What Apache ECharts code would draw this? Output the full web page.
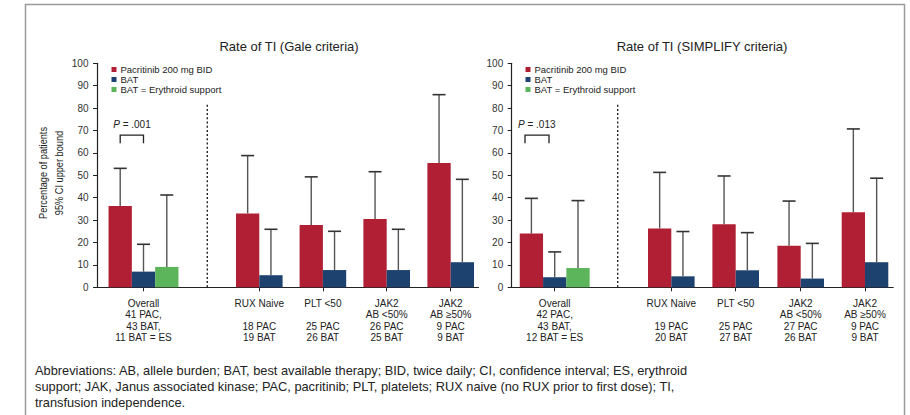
<!DOCTYPE html>
<html><head><meta charset="utf-8">
<script src="https://cdn.jsdelivr.net/npm/echarts@6/dist/echarts.min.js"></script>
<style>html,body{margin:0;padding:0;background:#fff}#c{width:910px;height:415px}</style>
</head><body><div id="c"></div>
<script>
// ---------- DATA ----------
const seriesNames = ['Pacritinib 200 mg BID', 'BAT', 'BAT = Erythroid support'];
const chartTitles = ['Rate of TI (Gale criteria)', 'Rate of TI (SIMPLIFY criteria)'];
const galeCategories = ['Overall\n41 PAC,\n43 BAT,\n11 BAT = ES', 'RUX Naive\n\n18 PAC\n19 BAT', 'PLT <50\n\n25 PAC\n26 BAT', 'JAK2\nAB <50%\n26 PAC\n25 BAT', 'JAK2\nAB ≥50%\n9 PAC\n9 BAT'];
const simplifyCategories = ['Overall\n42 PAC,\n43 BAT,\n12 BAT = ES', 'RUX Naive\n\n19 PAC\n20 BAT', 'PLT <50\n\n25 PAC\n27 BAT', 'JAK2\nAB <50%\n27 PAC\n26 BAT', 'JAK2\nAB ≥50%\n9 PAC\n9 BAT'];
const galePac = [36.3, 33.0, 27.8, 30.5, 55.5];
const galePacCI = [53.1, 58.8, 49.3, 51.6, 86.0];
const galeBat = [7.0, 5.4, 7.7, 7.7, 11.2];
const galeBatCI = [19.2, 25.9, 25.0, 25.9, 48.2];
const galeEs = [9.1];
const galeEsCI = [41.2];
const simpPac = [24.0, 26.3, 28.1, 18.5, 33.5];
const simpPacCI = [39.7, 51.3, 49.7, 38.5, 70.7];
const simpBat = [4.5, 4.9, 7.6, 3.9, 11.2];
const simpBatCI = [15.8, 24.9, 24.4, 19.6, 48.7];
const simpEs = [8.6];
const simpEsCI = [38.7];
const pValues = ['.001', '.013'];
const yMin = 0, yMax = 100, yInterval = 10;
const yAxisTitle = 'Percentage of patients\n95% CI upper bound';
const footnote = 'Abbreviations: AB, allele burden; BAT, best available therapy; BID, twice daily; CI, confidence interval; ES, erythroid\nsupport; JAK, Janus associated kinase; PAC, pacritinib; PLT, platelets; RUX naive (no RUX prior to first dose); TI,\ntransfusion independence.';

// ---------- LAYOUT ----------
const FONT = "'Liberation Sans', Arial, Helvetica, sans-serif";
const COLORS = ['#b01f33', '#1e4270', '#5db55b'];
const GRID_TOP = 63.3, GRID_H = 224, GRID_W = 381.5, X_MAX = 381.5, BAR_W = 23.3, CAP = 13;
const LAYOUT = [
  { gridLeft: 97, pos: [46.5, 162.3, 225.9, 289.7, 353.7], div: 110.3, bracket: [23.2, 46.5], titleX: 289, legendLeft: 111.5 },
  { gridLeft: 511.7, pos: [43, 159.6, 224, 289, 353.3], div: 106, bracket: [13.3, 37.3], titleX: 702, legendLeft: 525.5 }
];
const charts = [
  { cats: galeCategories, pac: galePac, pacCI: galePacCI, bat: galeBat, batCI: galeBatCI, es: galeEs, esCI: galeEsCI },
  { cats: simplifyCategories, pac: simpPac, pacCI: simpPacCI, bat: simpBat, batCI: simpBatCI, es: simpEs, esCI: simpEsCI }
];

function barRenderer(offsetFor, color) {
  return function (params, api) {
    const x = api.value(0), v = api.value(1), hi = api.value(2), i = api.value(3);
    const w = api.size([BAR_W, 0])[0];
    const base = api.coord([x, 0]);
    const top = api.coord([x, v]);
    const ciTop = api.coord([x, hi]);
    const cx = base[0] + offsetFor(i) * w;
    return { type: 'group', children: [
      { type: 'rect', shape: { x: cx - w / 2, y: top[1], width: w, height: base[1] - top[1] }, style: { fill: color } },
      { type: 'line', shape: { x1: cx, y1: top[1], x2: cx, y2: ciTop[1] }, style: { stroke: '#555', lineWidth: 1.4 } },
      { type: 'line', shape: { x1: cx - CAP / 2, y1: ciTop[1], x2: cx + CAP / 2, y2: ciTop[1] }, style: { stroke: '#333', lineWidth: 1.6 } }
    ] };
  };
}

const grids = [], xAxes = [], yAxes = [], series = [], legends = [], graphics = [];
charts.forEach((c, ci) => {
  const L = LAYOUT[ci];
  grids.push({ left: L.gridLeft, top: GRID_TOP, width: GRID_W, height: GRID_H, containLabel: false, outerBoundsMode: 'none' });
  xAxes.push({
    type: 'value', gridIndex: ci, min: 0, max: X_MAX,
    axisLine: { show: true, lineStyle: { color: '#222', width: 1.2 } },
    axisTick: { show: true, customValues: L.pos, length: 4, lineStyle: { color: '#222' } },
    axisLabel: {
      show: true, customValues: L.pos, margin: 10, fontSize: 10, lineHeight: 11.5, color: '#222', fontFamily: FONT, align: 'center',
      formatter: function (val) {
        let best = 0, d = 1e9;
        L.pos.forEach((p, k) => { if (Math.abs(p - val) < d) { d = Math.abs(p - val); best = k; } });
        return c.cats[best];
      }
    },
    splitLine: { show: false }
  });
  yAxes.push({
    type: 'value', gridIndex: ci, min: yMin, max: yMax, interval: yInterval,
    axisLine: { show: true, lineStyle: { color: '#222', width: 1.2 } },
    axisTick: { show: true, length: 4, lineStyle: { color: '#222' } },
    axisLabel: { margin: 8.5, fontSize: 10, color: '#333', fontFamily: FONT },
    splitLine: { show: false }
  });
  series.push({
    name: seriesNames[0], type: 'custom', xAxisIndex: ci, yAxisIndex: ci, itemStyle: { color: COLORS[0] },
    data: c.pac.map((v, i) => [L.pos[i], v, c.pacCI[i], i]),
    renderItem: barRenderer(i => (i === 0 ? -1 : -0.5), COLORS[0]), silent: true
  });
  series.push({
    name: seriesNames[1], type: 'custom', xAxisIndex: ci, yAxisIndex: ci, itemStyle: { color: COLORS[1] },
    data: c.bat.map((v, i) => [L.pos[i], v, c.batCI[i], i]),
    renderItem: barRenderer(i => (i === 0 ? 0 : 0.5), COLORS[1]), silent: true
  });
  series.push({
    name: seriesNames[2], type: 'custom', xAxisIndex: ci, yAxisIndex: ci, itemStyle: { color: COLORS[2] },
    data: c.es.map((v, i) => [L.pos[i], v, c.esCI[i], i]),
    renderItem: barRenderer(() => 1, COLORS[2]), silent: true
  });
  // dotted divider
  series.push({
    type: 'custom', xAxisIndex: ci, yAxisIndex: ci, silent: true, data: [[L.div]],
    renderItem: function (params, api) {
      const a = api.coord([api.value(0), 0]), b = api.coord([api.value(0), 82]);
      return { type: 'line', shape: { x1: a[0], y1: a[1], x2: b[0], y2: b[1] }, style: { stroke: '#222', lineWidth: 1.4, lineDash: [2, 2.2] } };
    }
  });
  // p-value bracket
  series.push({
    type: 'custom', xAxisIndex: ci, yAxisIndex: ci, silent: true, data: [[L.bracket[0], L.bracket[1]]],
    renderItem: function (params, api) {
      const a = api.coord([api.value(0), 64.3]), b = api.coord([api.value(1), 67.9]);
      const ty = api.coord([0, 72.9])[1];
      return { type: 'group', children: [
        { type: 'polyline', shape: { points: [[a[0], a[1]], [a[0], b[1]], [b[0], b[1]], [b[0], a[1]]] }, style: { stroke: '#222', lineWidth: 1.3, fill: null } },
        { type: 'text', x: a[0] - 7, y: ty, style: { text: '{i|P} = ' + pValues[ci], fontSize: 10, fontFamily: FONT, fill: '#222', verticalAlign: 'middle', align: 'left',
          rich: { i: { fontStyle: 'italic', fontSize: 10, fontFamily: FONT, fill: '#222' } } } }
      ] };
    }
  });
  legends.push({
    data: seriesNames, orient: 'vertical', left: L.legendLeft, top: 64.5, padding: 0, itemGap: 0,
    icon: 'rect', itemWidth: 5, itemHeight: 5, selectedMode: false,
    textStyle: { fontSize: 9.5, lineHeight: 9.7, color: '#222', fontFamily: FONT, padding: [0, 0, 0, -1] }
  });
  graphics.push({ type: 'text', x: L.titleX, y: 46.7, style: { text: chartTitles[ci], fontSize: 13, fontFamily: FONT, fill: '#222', align: 'center', verticalAlign: 'middle' } });
});

graphics.push({ type: 'rect', shape: { x: 25.5, y: 4.5, width: 879, height: 440 }, style: { stroke: '#9a9a9a', lineWidth: 1.5, fill: null }, silent: true });
graphics.push({ type: 'text', x: 51.5, y: 173, rotation: Math.PI / 2, scaleX: 0.8, style: { text: yAxisTitle, fontSize: 11.5, lineHeight: 16, fontFamily: FONT, fill: '#222', align: 'center', verticalAlign: 'middle' } });
graphics.push({ type: 'text', x: 35, y: 362, style: { text: footnote, fontSize: 12.8, lineHeight: 16, fontFamily: FONT, fill: '#222', align: 'left', verticalAlign: 'top' } });

const chart = echarts.init(document.getElementById('c'), null, { renderer: 'svg' });
chart.setOption({
  animation: false,
  backgroundColor: '#fff',
  grid: grids, xAxis: xAxes, yAxis: yAxes, series: series, legend: legends,
  graphic: graphics
});
</script></body></html>
